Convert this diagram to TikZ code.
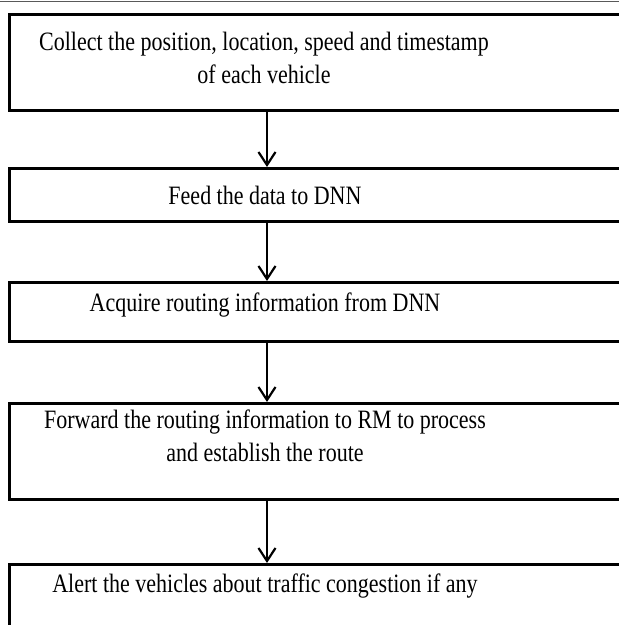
\documentclass[tikz,border=0pt]{standalone}
\usepackage{fontspec}
\setmainfont[FakeStretch=0.83]{Liberation Serif}
\usetikzlibrary{arrows.meta, positioning, calc}
\tikzset{
    stepframe/.style={draw, rectangle, line width=2.8pt, anchor=north west, minimum width=640pt, inner sep=0pt},
    steptext/.style={font=\fontsize{26.5}{33}\selectfont, align=center, inner sep=0pt},
    flowarrow/.style={-{Straight Barb[length=13pt, width=17pt, line width=2.2pt]}, line width=2.4pt},
}
\begin{document}
\begin{tikzpicture}[x=1pt, y=1pt]
                \useasboundingbox (0,0) rectangle (619,-625);
                \clip (0,0) rectangle (619,-625);
                % Top rule
                \draw[line width=0.8pt, gray!70!black] (0,-1.5) -- (619,-1.5);

                % Frames
                \node[stepframe, minimum height=96pt] (collectbox) at (8,-13) {};
                \node[stepframe, minimum height=53pt] (feedbox) at (8,-167) {};
                \node[stepframe, minimum height=59pt] (acquirebox) at (8,-281) {};
                \node[stepframe, minimum height=96pt] (forwardbox) at (8,-402) {};
                \node[stepframe, minimum height=96pt] (alertbox) at (8,-563) {};

                % Step texts
                \node[steptext] (collect) at (264,-58) {Collect the position, location, speed and timestamp\\of each vehicle};
                \node[steptext] (feed) at (265,-195) {Feed the data to DNN};
                \node[steptext] (acquire) at (265,-305) {Acquire routing information from DNN};
                \node[steptext] (forward) at (265,-436) {Forward the routing information to RM to process\\and establish the route};
                \node[steptext] (alert) at (265,-586) {Alert the vehicles about traffic congestion if any};

                % Arrows
                \coordinate (axis) at (267,0);
                \draw[flowarrow] (collectbox.south -| axis) -- (feedbox.north -| axis);
                \draw[flowarrow] (feedbox.south -| axis) -- (acquirebox.north -| axis);
                \draw[flowarrow] (acquirebox.south -| axis) -- (forwardbox.north -| axis);
                \draw[flowarrow] (forwardbox.south -| axis) -- (alertbox.north -| axis);
            \end{tikzpicture}
\end{document}
